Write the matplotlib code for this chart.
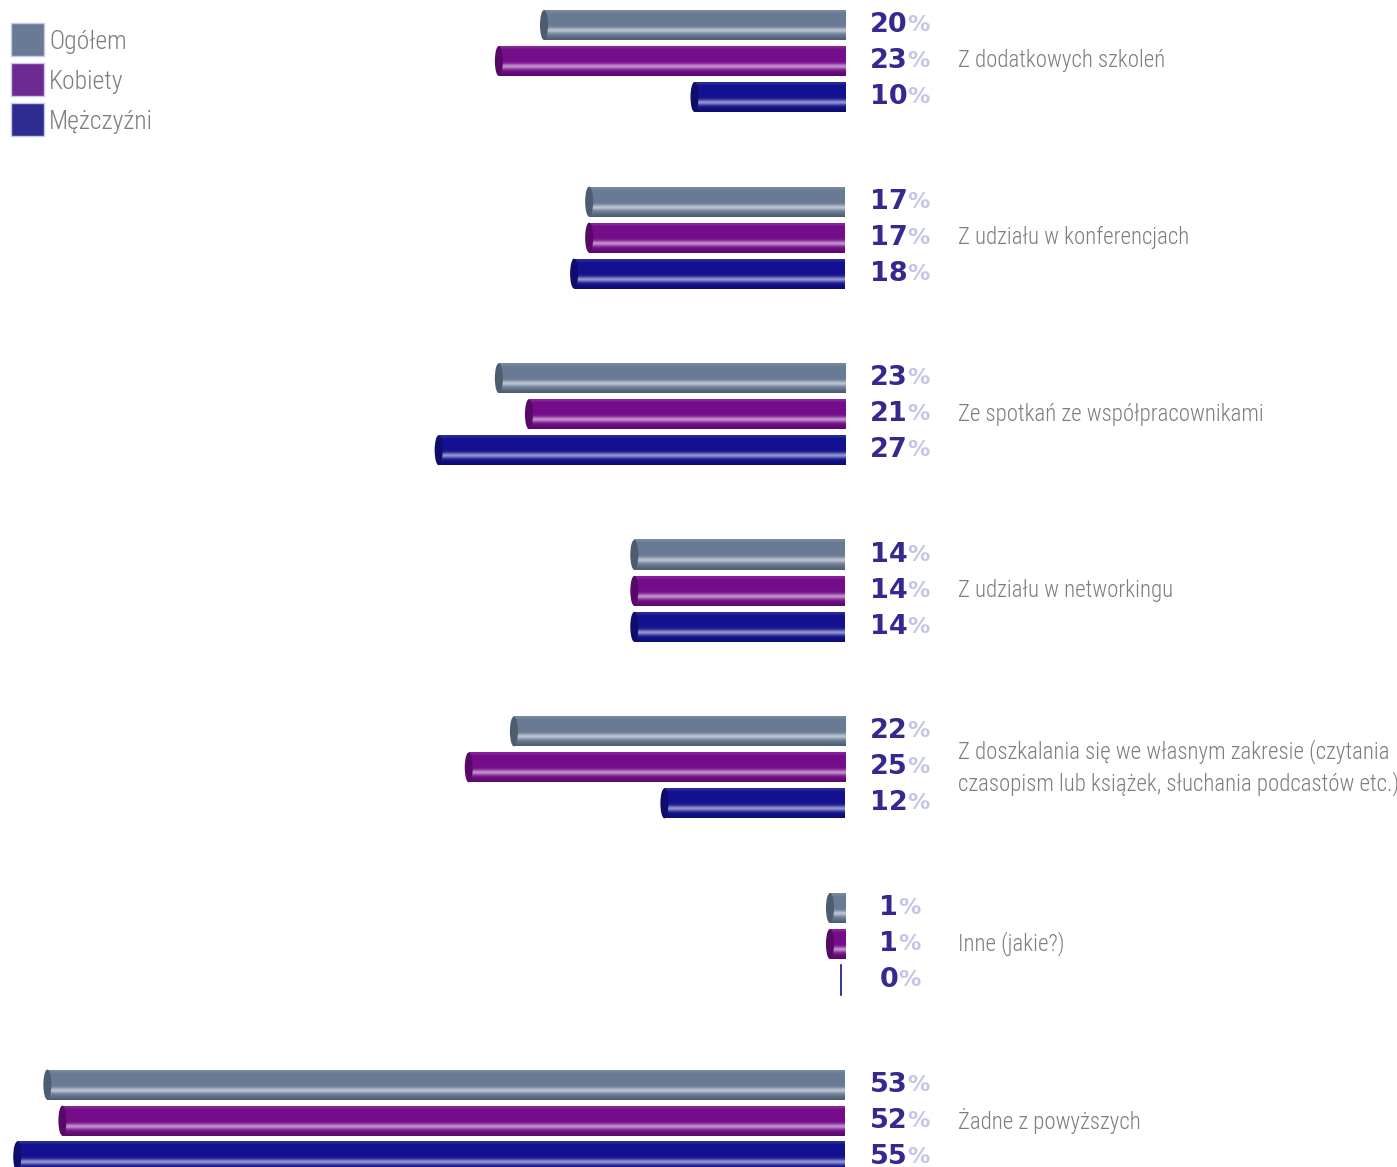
import matplotlib.pyplot as plt
import numpy as np
import matplotlib.transforms as mtransforms
from matplotlib.patches import Ellipse, Rectangle

categories = [
    "Z dodatkowych szkoleń",
    "Z udziału w konferencjach",
    "Ze spotkań ze współpracownikami",
    "Z udziału w networkingu",
    "Z doszkalania się we własnym zakresie (czytania\nczasopism lub książek, słuchania podcastów etc.)",
    "Inne (jakie?)",
    "Żadne z powyższych",
]
ogolem = [20, 17, 23, 14, 22, 1, 53]
kobiety = [23, 17, 21, 14, 25, 1, 52]
mezczyzni = [10, 18, 27, 14, 12, 0, 55]
series_names = ["Ogółem", "Kobiety", "Mężczyźni"]

bar_colors = ["#687a94", "#750c8a", "#12118f"]
legend_colors = ["#687a94", "#6e2a94", "#2e2d8f"]
num_color = "#34298f"
pct_color = "#c3c6e6"
text_color = "#7d7d7d"
label_font = {"family": "Roboto Condensed", "weight": "light"}

W, H = 1397, 1167
fig = plt.figure(figsize=(W / 100, H / 100), dpi=100)
ax = fig.add_axes([0, 0, 845 / W, 1])
ax.axis("off")

px_per_pct = 15.05
group_step = 176.6
top_center = 61
bar_h = 30 / group_step
offsets = [-36 / group_step, 0, 36 / group_step]
cap_w = 8 / px_per_pct


def hex2rgb(h):
    h = h.lstrip("#")
    return np.array([int(h[i:i + 2], 16) / 255 for i in (0, 2, 4)])


def cylinder(base):
    # vertical shading profile for a lying cylinder
    t = np.linspace(0, 1, 80)[:, None]
    light = 0.55 * np.exp(-((t - 0.68) / 0.09) ** 2) + 0.12 * np.exp(-((t - 0.03) / 0.05) ** 2)
    dark = 0.25 * np.clip((t - 0.82) / 0.18, 0, 1)
    rgb = base[None, :] * (1 - dark)
    rgb = rgb + (1 - rgb) * light
    return rgb[:, None, :]


series = [ogolem, kobiety, mezczyzni]
for s, vals in enumerate(series):
    base = hex2rgb(bar_colors[s])
    img = cylinder(base)
    for i, v in enumerate(vals):
        y = i + offsets[s]
        if v == 0:
            ax.plot([cap_w / 2, cap_w / 2], [y - bar_h / 2, y + bar_h / 2],
                    color=bar_colors[s], lw=1.2)
            continue
        ax.imshow(img, extent=(v, 0, y + bar_h / 2, y - bar_h / 2),
                  origin="upper", aspect="auto", interpolation="bilinear", zorder=2)
        ax.add_patch(Ellipse((v, y), cap_w, bar_h, facecolor=base * 0.75,
                             edgecolor="none", zorder=3))

ax.set_xlim(845 / px_per_pct, 0)
ax.set_ylim((H - top_center) / group_step, -top_center / group_step)

# value labels, centred around x = 900 px
trans = mtransforms.blended_transform_factory(fig.transFigure, ax.transData)
fig.canvas.draw()
renderer = fig.canvas.get_renderer()
for s, vals in enumerate(series):
    for i, v in enumerate(vals):
        y = i + offsets[s]
        tn = ax.text(0, y, str(v), transform=trans, fontsize=19.5, fontweight="bold",
                     color=num_color, va="center", ha="left")
        tp = ax.text(0, y, "%", transform=trans, fontsize=16, fontweight="bold",
                     color=pct_color, va="center", ha="left")
        wn = tn.get_window_extent(renderer).width
        wp = tp.get_window_extent(renderer).width
        x0 = 900 - (wn + wp) / 2
        tn.set_x(x0 / W)
        tp.set_x((x0 + wn) / W)

# category labels
for i, c in enumerate(categories):
    ax.text(958 / W, i, c, transform=trans, fontsize=16.5, color=text_color,
            va="center", ha="left", linespacing=1.35, **label_font)

# legend: coloured squares with names, laid out in pixels from the top-left
for k, name in enumerate(series_names):
    top = 23 + 40 * k
    fig.add_artist(Rectangle((11 / W, 1 - (top + 33) / H), 33 / W, 33 / H,
                             transform=fig.transFigure, facecolor=legend_colors[k],
                             edgecolor="#c8c8ec", lw=1))
    fig.text(49 / W, 1 - (top + 19) / H, name, fontsize=18.5, color=text_color,
             va="center", ha="left", **label_font)

fig.savefig("out.png", dpi=100)
